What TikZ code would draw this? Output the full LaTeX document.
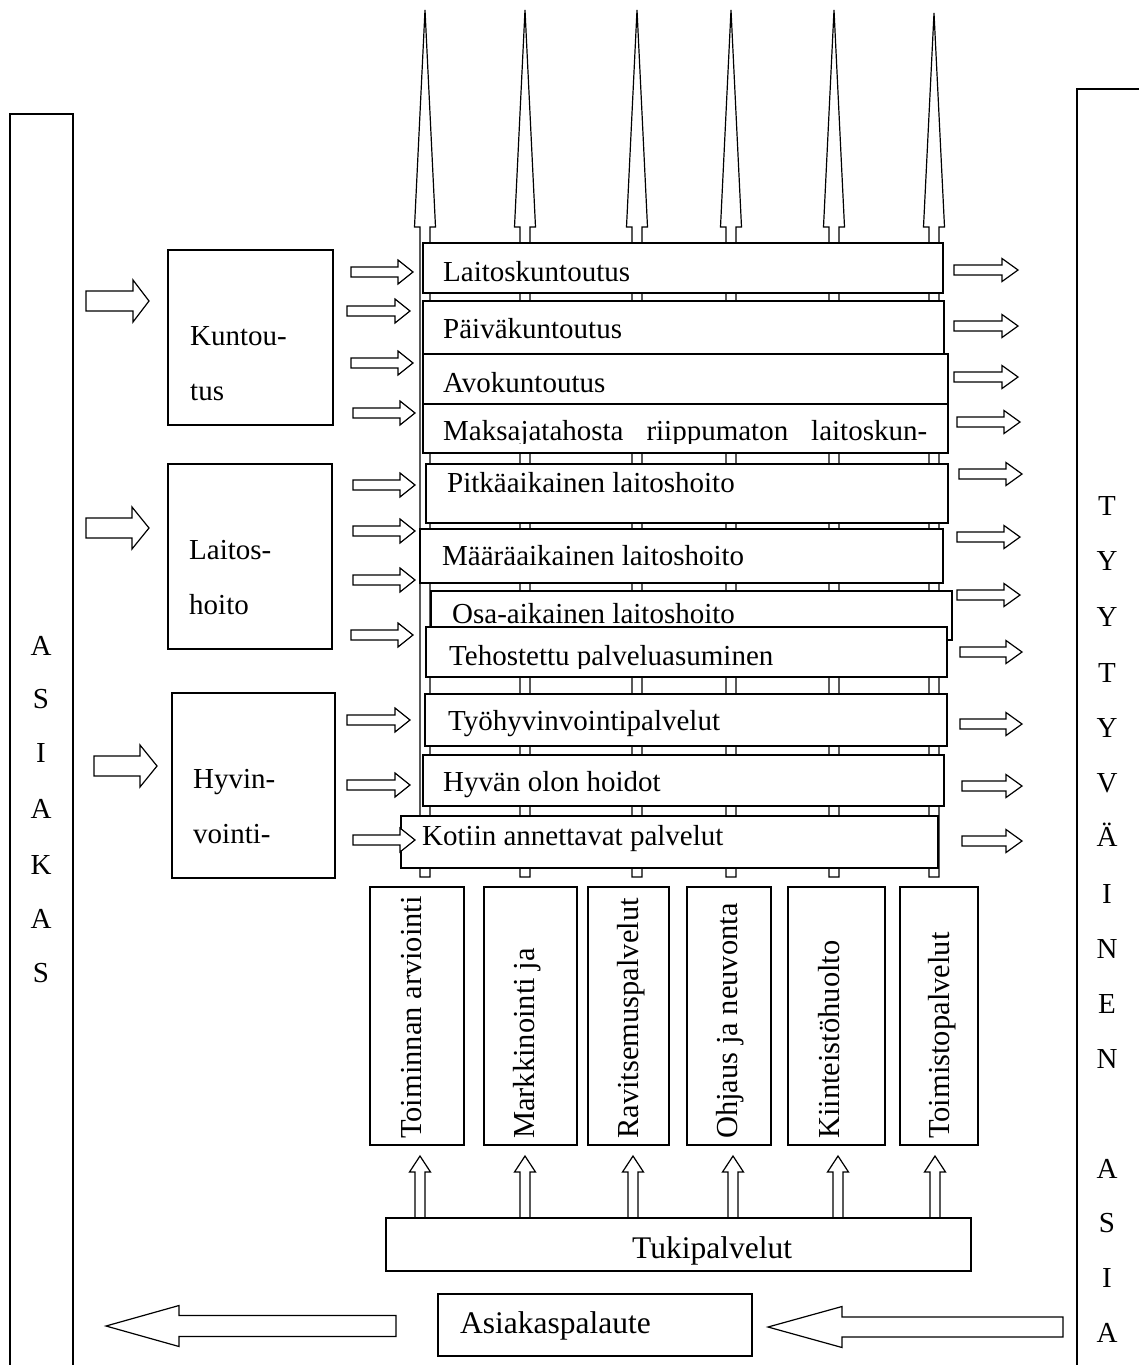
\documentclass[tikz,border=0pt]{standalone}
\usepackage{fontspec}
\setmainfont{Liberation Serif}
\usetikzlibrary{fit}
\tikzset{
  box/.style={draw, fill=white, line width=1.3pt, inner sep=0pt, outer sep=0pt},
  arr/.style={draw, fill=white, line width=1.2pt, line join=miter},
  txt/.style={inner sep=0pt, font=\fontsize{29}{34}\selectfont},
  bigtxt/.style={inner sep=0pt, font=\fontsize{31.5}{36}\selectfont},
  vtxt/.style={inner sep=0pt, font=\fontsize{30.5}{34}\selectfont, rotate=90, anchor=base west},
}
\newcommand\HArr[6]{\draw[arr] (#1,#4-#5) -- (#2,#4-#5) -- (#2,#4-#6) -- (#3,#4) -- (#2,#4+#6) -- (#2,#4+#5) -- (#1,#4+#5) -- cycle;}
\newcommand\VArr[6]{\draw[arr] (#1-#5,#2) -- (#1-#5,#3) -- (#1-#6,#3) -- (#1,#4) -- (#1+#6,#3) -- (#1+#5,#3) -- (#1+#5,#2) -- cycle;}
\newcommand\Bx[5]{\node[box, fit={(#2,#3) (#4,#5)}] (#1) {};}
\begin{document}
\begin{tikzpicture}[x=1pt,y=-1pt]
\useasboundingbox (0,0) rectangle (1138,1365);
% tall up arrows behind the service stack
\foreach \cx/\tip in {425/10,525/10,637/10,731/10,834/10,934/13}
  \VArr{\cx}{877}{227}{\tip}{5}{10.5};
% service boxes
\Bx{b1}{423}{243}{943}{293}
\node[txt, anchor=base west] (t1) at (443,281) {Laitoskuntoutus};
\Bx{b2}{423}{301}{944}{354}
\node[txt, anchor=base west] (t2) at (443,338) {Päiväkuntoutus};
\Bx{b3}{423}{354}{948}{404}
\node[txt, anchor=base west] (t3) at (443,392) {Avokuntoutus};
\Bx{b4}{423}{404}{948}{453}
\begin{scope}
\clip (423,404) rectangle (948,443);
\node[txt, anchor=base west] (t4) at (443,440) {\makebox[484pt][s]{Maksajatahosta riippumaton laitoskun-}};
\end{scope}
\Bx{b5}{426}{464}{948}{523}
\node[txt, anchor=base west] (t5) at (447,492) {Pitkäaikainen laitoshoito};
\Bx{b6}{420}{529}{943}{583}
\node[txt, anchor=base west] (t6) at (442,565) {Määräaikainen laitoshoito};
\Bx{b7}{431}{591}{952}{640}
\node[txt, anchor=base west] (t7) at (452,623) {Osa-aikainen laitoshoito};
\Bx{b8}{426}{627}{947}{677}
\begin{scope}
\clip (426,627) rectangle (947,668);
\node[txt, anchor=base west] (t8) at (449,665) {Tehostettu palveluasuminen};
\end{scope}
\Bx{b9}{425}{694}{947}{746}
\node[txt, anchor=base west] (t9) at (448,730) {Työhyvinvointipalvelut};
\Bx{b10}{423}{755}{944}{806}
\node[txt, anchor=base west] (t10) at (443,791) {Hyvän olon hoidot};
\Bx{b11}{401}{816}{938}{868}
\node[txt, anchor=base west] (t11) at (422,845) {Kotiin annettavat palvelut};
% small arrows into the stack
\foreach \a/\b/\c in {351/413/272,347/410/311,351/413/363,353/415/413,353/415/485,353/415/531,353/415/580,351/413/635,347/410/720,347/410/785,353/415/840}
  \HArr{\a}{\b-15}{\b}{\c}{5}{12};
% small arrows out of the stack
\foreach \a/\b/\c in {954/1018/270,954/1018/326,954/1018/377,957/1020/422,959/1022/474,957/1020/537,957/1020/595,960/1022/652,960/1022/724,962/1022/786,962/1022/841}
  \HArr{\a}{\b-16}{\b}{\c}{5}{11.5};
% group boxes
\Bx{kun}{168}{250}{333}{425}
\node[txt, anchor=base west] (kun1) at (190,345) {Kuntou-};
\node[txt, anchor=base west] (kun2) at (190,400) {tus};
\Bx{lai}{168}{464}{332}{649}
\node[txt, anchor=base west] (lai1) at (189,559) {Laitos-};
\node[txt, anchor=base west] (lai2) at (189,614) {hoito};
\Bx{hyv}{172}{693}{335}{878}
\node[txt, anchor=base west] (hyv1) at (193,788) {Hyvin-};
\node[txt, anchor=base west] (hyv2) at (193,843) {vointi-};
% big arrows from customer
\HArr{86}{133}{149}{301}{10}{21}
\HArr{86}{132}{149}{528}{10}{21}
\HArr{94}{140}{157}{766}{10}{21}
% customer column (left)
\draw[line width=1.3pt] (10,1380) -- (10,114) -- (73,114) -- (73,1380);
\foreach \L/\y in {A/645,S/698,I/752,A/808,K/864,A/918,S/972}
  \node[txt, anchor=base] (as\y) at (41,\y+10) {\L};
% satisfied customer column (right)
\draw[line width=1.3pt] (1150,89) -- (1077,89) -- (1077,1380);
\foreach \L/\y in {T/505,Y/560,Y/616,T/672,Y/727,V/782,Ä/836,I/893,N/948,E/1003,N/1058,A/1168,S/1222,I/1277,A/1332}
  \node[txt, anchor=base] (ty\y) at (1107,\y+10) {\L};
% support columns
\Bx{c1}{370}{887}{464}{1145}
\node[vtxt] (v1) at (421,1139) {Toiminnan arviointi};
\Bx{c2}{484}{887}{577}{1145}
\node[vtxt] (v2) at (534,1139) {Markkinointi ja};
\Bx{c3}{588}{887}{669}{1145}
\node[vtxt] (v3) at (638,1139) {Ravitsemuspalvelut};
\Bx{c4}{687}{887}{771}{1145}
\node[vtxt] (v4) at (737,1139) {Ohjaus ja neuvonta};
\Bx{c5}{788}{887}{885}{1145}
\node[vtxt] (v5) at (839,1139) {Kiinteistöhuolto};
\Bx{c6}{900}{887}{978}{1145}
\node[vtxt] (v6) at (949,1139) {Toimistopalvelut};
% support services
\foreach \cx in {420,525,633,733,838,935}
  \VArr{\cx}{1218}{1172}{1156}{5}{10.5};
\Bx{tuki}{386}{1218}{971}{1271}
\node[bigtxt, anchor=base west] (tukit) at (632,1258) {Tukipalvelut};
% feedback
\Bx{pal}{438}{1294}{752}{1356}
\node[bigtxt, anchor=base west] (palt) at (460,1333) {Asiakaspalaute};
\HArr{396}{179}{106}{1326}{10.5}{20.5}
\HArr{1063}{842}{768}{1327}{10}{20.5}
\end{tikzpicture}
\end{document}
